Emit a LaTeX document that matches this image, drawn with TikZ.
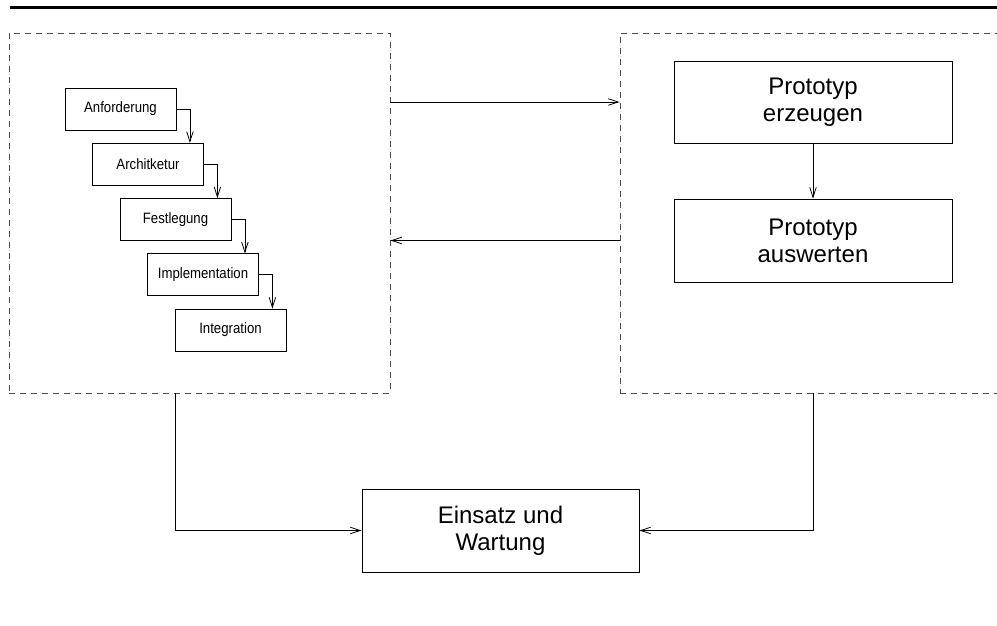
\documentclass[tikz,border=0pt]{standalone}
\usepackage{fontspec}
\setmainfont{Liberation Sans}
\newfontfamily\narrowsans[FakeStretch=0.88]{Liberation Sans}
\usetikzlibrary{arrows.meta}

\begin{document}
\begin{tikzpicture}[x=1pt,y=-1pt,
  line width=0.8pt,
  phase/.style={draw, inner sep=0pt, minimum width=111pt, minimum height=42pt,
    font=\narrowsans\fontsize{15}{17}\selectfont},
  bigbox/.style={draw, inner sep=0pt, minimum width=278pt, minimum height=82pt,
    align=center, font=\fontsize{24}{27}\selectfont},
  group/.style={draw=black!70, line width=0.9pt, dash pattern=on 6pt off 5pt, inner sep=0pt},
  arr/.style={-{Straight Barb[length=10pt,width=6.5pt]}},
]
\useasboundingbox (0,0) rectangle (997,625);
\clip (0,0) rectangle (997,625);

% rule across the top
\draw[line width=3pt] (10,7) -- (997,7);

% dashed frames
\node[group, minimum width=381pt, minimum height=360pt] (L) at (199.5,213) {};
\node[group, minimum width=390pt, minimum height=360pt] (R) at (815,213) {};

% waterfall phases
\node[phase] (A) at (120.5,109)   {Anforderung};
\node[phase] (B) at (148,164.25)  {Architketur};
\node[phase] (C) at (175.5,219.5) {Festlegung};
\node[phase] (D) at (203,274.75)  {Implementation};
\node[phase] (I) at (230.5,330)   {Integration};

\draw[arr] (A.east) -| ([xshift=-14pt]B.north east);
\draw[arr] (B.east) -| ([xshift=-14pt]C.north east);
\draw[arr] (C.east) -| ([xshift=-14pt]D.north east);
\draw[arr] (D.east) -| ([xshift=-14pt]I.north east);

% prototyping
\node[bigbox] (P1) at (813,102)   {Prototyp\\erzeugen};
\node[bigbox, minimum height=83pt] (P2) at (813,240.5) {Prototyp\\auswerten};
\draw[arr] (P1.south) -- (P2.north);

% links between the two frames
\draw[arr] (L.east |- P1) -- (R.west |- P1);
\draw[arr] (R.west |- P2) -- (L.east |- P2);

% deployment
\node[bigbox, minimum width=277pt, minimum height=83pt] (E) at (500.5,530.5) {Einsatz und\\Wartung};
\draw[arr] ([xshift=167pt]L.south west) |- (E.west);
\draw[arr] (R.south -| P2.south) |- (E.east);
\end{tikzpicture}
\end{document}
